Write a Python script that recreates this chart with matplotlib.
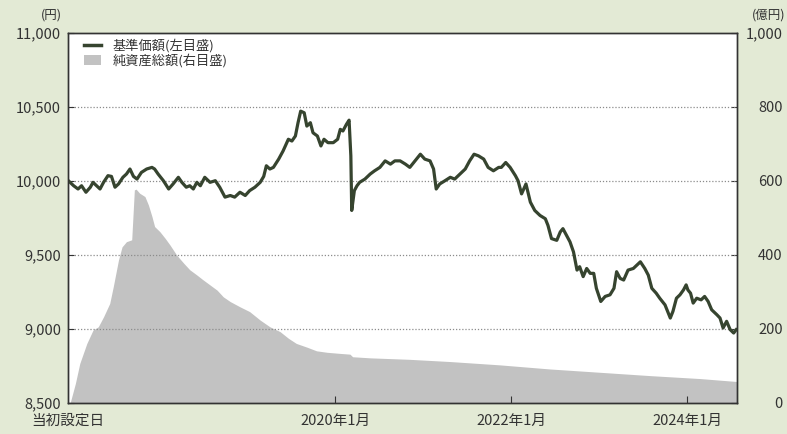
import matplotlib
matplotlib.use("Agg")
import matplotlib.pyplot as plt
from matplotlib.lines import Line2D
from matplotlib.patches import Patch

plt.rcParams['font.family'] = ['Noto Sans CJK JP', 'DejaVu Sans']

# 基準価額 (decimal year, yen)
nav_t = [2016.97, 2017.03, 2017.08, 2017.12, 2017.17, 2017.22, 2017.25, 2017.29, 2017.33, 2017.37,
         2017.42, 2017.46, 2017.50, 2017.54, 2017.59, 2017.63, 2017.67, 2017.71, 2017.75, 2017.80,
         2017.86, 2017.92, 2017.95, 2017.99, 2018.05, 2018.11, 2018.16, 2018.22, 2018.26, 2018.31,
         2018.35, 2018.39, 2018.43, 2018.47, 2018.52, 2018.58, 2018.64, 2018.69, 2018.75, 2018.81,
         2018.86, 2018.92, 2018.98, 2019.03, 2019.09, 2019.15, 2019.19, 2019.22, 2019.26, 2019.30,
         2019.36, 2019.41, 2019.47, 2019.51, 2019.55, 2019.58, 2019.61, 2019.65, 2019.68, 2019.72,
         2019.75, 2019.80, 2019.84, 2019.875, 2019.92, 2019.98, 2020.03, 2020.06, 2020.09, 2020.13,
         2020.16, 2020.18, 2020.19, 2020.22, 2020.25, 2020.28, 2020.34, 2020.40, 2020.45, 2020.51,
         2020.57, 2020.63, 2020.68, 2020.74, 2020.80, 2020.85, 2020.91, 2020.97, 2021.02, 2021.08,
         2021.12, 2021.15, 2021.19, 2021.25, 2021.31, 2021.36, 2021.42, 2021.48, 2021.53, 2021.58,
         2021.63, 2021.69, 2021.74, 2021.80, 2021.86, 2021.89, 2021.94, 2021.99, 2022.05, 2022.08,
         2022.12, 2022.17, 2022.22, 2022.27, 2022.33, 2022.39, 2022.42, 2022.46, 2022.52, 2022.56,
         2022.59, 2022.63, 2022.67, 2022.71, 2022.75, 2022.78, 2022.82, 2022.86, 2022.90, 2022.94,
         2022.97, 2023.02, 2023.07, 2023.125, 2023.17, 2023.20, 2023.24, 2023.28, 2023.33, 2023.39,
         2023.43, 2023.47, 2023.52, 2023.56, 2023.60, 2023.65, 2023.69, 2023.75, 2023.81, 2023.84,
         2023.88, 2023.92, 2023.96, 2023.99, 2024.01, 2024.04, 2024.07, 2024.11, 2024.16, 2024.20,
         2024.24, 2024.28, 2024.34, 2024.375, 2024.41, 2024.45, 2024.49, 2024.53, 2024.56]
nav_v = [10002, 9968, 9946, 9968, 9924, 9958, 9991, 9968, 9946, 9991,
         10036, 10031, 9958, 9980, 10025, 10047, 10081, 10031, 10013, 10058,
         10081, 10092, 10081, 10047, 10002, 9946, 9980, 10025, 9991, 9958,
         9968, 9946, 9991, 9968, 10025, 9991, 10002, 9958, 9891, 9902,
         9891, 9924, 9902, 9935, 9958, 9991, 10031, 10103, 10081, 10092,
         10148, 10203, 10282, 10270, 10304, 10394, 10472, 10461, 10371, 10394,
         10326, 10304, 10237, 10282, 10259, 10259, 10282, 10349, 10338, 10383,
         10411, 10170, 9801, 9935, 9968, 9991, 10013, 10047, 10069, 10092,
         10136, 10114, 10136, 10136, 10114, 10092, 10136, 10181, 10148, 10136,
         10081, 9946, 9980, 10002, 10025, 10013, 10047, 10081, 10136, 10181,
         10170, 10148, 10092, 10069, 10092, 10092, 10125, 10092, 10036, 10002,
         9913, 9980, 9857, 9801, 9767, 9745, 9700, 9611, 9599, 9656,
         9678, 9633, 9589, 9521, 9398, 9421, 9354, 9409, 9376, 9376,
         9275, 9186, 9220, 9231, 9275, 9387, 9342, 9331, 9398, 9409,
         9432, 9454, 9409, 9364, 9275, 9242, 9208, 9163, 9074, 9119,
         9208, 9231, 9264, 9298, 9264, 9242, 9175, 9208, 9197, 9220,
         9186, 9130, 9096, 9074, 9007, 9052, 8996, 8973, 8996]

# 純資産総額 (decimal year, 億円)
aum_t = [2016.99, 2017.05, 2017.10, 2017.18, 2017.25, 2017.31, 2017.37, 2017.44, 2017.48, 2017.54,
         2017.58, 2017.63, 2017.69, 2017.72, 2017.74, 2017.78, 2017.84, 2017.88, 2017.92, 2017.95,
         2018.01, 2018.07, 2018.125, 2018.20, 2018.28, 2018.35, 2018.43, 2018.50, 2018.58, 2018.66,
         2018.73, 2018.81, 2018.92, 2019.03, 2019.15, 2019.26, 2019.375, 2019.47, 2019.56, 2019.68,
         2019.79, 2019.91, 2020.06, 2020.17, 2020.20, 2020.40, 2020.625, 2020.85, 2021.31, 2021.875,
         2022.44, 2023.01, 2023.58, 2024.15, 2024.57]
aum_v = [0, 53, 107, 161, 197, 206, 233, 269, 314, 387,
         422, 436, 441, 576, 578, 567, 558, 535, 504, 477,
         463, 445, 427, 400, 378, 360, 346, 333, 319, 305,
         287, 274, 260, 247, 224, 206, 193, 175, 161, 151,
         141, 137, 134, 132, 125, 122, 120, 118, 112, 103,
         92, 83, 74, 66, 58]

x_ticks = [2016.97, 2020.0, 2022.0, 2024.0]
x_labels = ['当初設定日', '2020年1月', '2022年1月', '2024年1月']
left_ticks = [8500, 9000, 9500, 10000, 10500, 11000]
left_labels = ['8,500', '9,000', '9,500', '10,000', '10,500', '11,000']
right_ticks = [0, 200, 400, 600, 800, 1000]
right_labels = ['0', '200', '400', '600', '800', '1,000']

BG = '#e3ead5'
TXT = '#333333'
LINE = '#36442f'
AREA = '#c2c2c2'

fig = plt.figure(figsize=(7.87, 4.34), dpi=100, facecolor=BG)
ax2 = fig.add_axes([68/787, 1-403/434, (737-68)/787, (403-33)/434])
ax1 = ax2.twinx()
ax1.set_zorder(ax2.get_zorder() + 1)
ax1.patch.set_visible(False)
ax2.set_facecolor('white')

ax2.fill_between(aum_t, aum_v, 0, color=AREA, linewidth=0)
ax2.set_ylim(0, 1000)
ax1.plot(nav_t, nav_v, color=LINE, linewidth=2.3, solid_joinstyle='round')
ax1.set_ylim(8500, 11000)
ax1.set_xlim(2016.966, 2024.568)

ax1.yaxis.tick_left()
ax2.yaxis.tick_right()

ax1.set_yticks(left_ticks)
ax1.set_yticklabels(left_labels)
ax2.set_yticks(right_ticks)
ax2.set_yticklabels(right_labels)
for t in ax2.get_yticklabels():
    t.set_horizontalalignment('right')

for v in [9000, 9500, 10000, 10500]:
    ax1.axhline(v, color='#8c8c8c', linestyle=(0, (1, 1.5)), linewidth=0.9, zorder=0.5)

ax2.set_xticks(x_ticks)
ax2.set_xticklabels(x_labels)
ax1.set_xticks(x_ticks)
ax1.tick_params(axis='x', bottom=False, labelbottom=False, top=False)

ax1.tick_params(axis='y', direction='in', length=4, width=0.8, color='#333333',
                labelsize=10.5, labelcolor=TXT, pad=5)
ax2.tick_params(axis='y', direction='in', length=4, width=0.8, color='#333333',
                labelsize=10.5, labelcolor=TXT, pad=33)
ax2.tick_params(axis='x', direction='in', length=5, width=0.8, color='#333333',
                labelsize=10.5, labelcolor=TXT, pad=8)
ax2.xaxis.get_major_ticks()[0].tick1line.set_visible(False)

for ax in (ax1, ax2):
    for s in ax.spines.values():
        s.set_color('#333333')
        s.set_linewidth(1.0)

fig.text(62/787, 1-15/434, '(円)', ha='right', va='center', fontsize=9, color=TXT)
fig.text(785/787, 1-15/434, '(億円)', ha='right', va='center', fontsize=9, color=TXT)

handles = [Line2D([0], [0], color=LINE, linewidth=2.5),
           Patch(facecolor=AREA, edgecolor='none')]
ax1.legend(handles, ['基準価額(左目盛)', '純資産総額(右目盛)'], loc='upper left',
           bbox_to_anchor=(0.01, 1.01), frameon=False, fontsize=9.5, handlelength=1.3,
           handleheight=0.8, handletextpad=0.9, labelspacing=0.1, labelcolor=TXT,
           borderaxespad=0.3)

fig.savefig('out.png', dpi=100, facecolor=BG)
